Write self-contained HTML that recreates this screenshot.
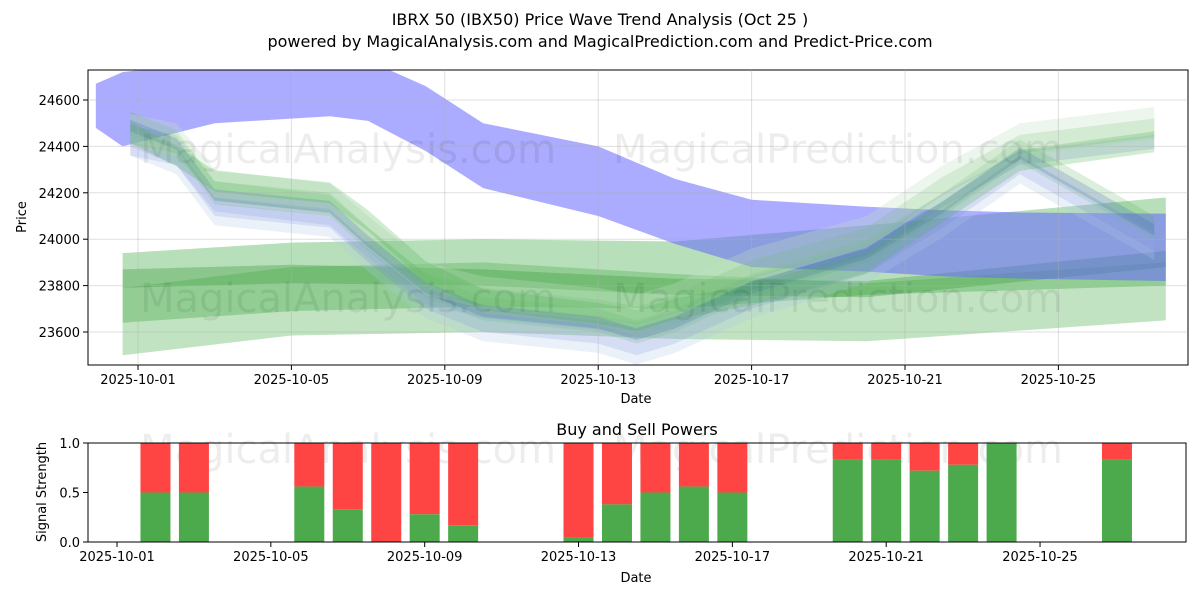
<!DOCTYPE html>
<html><head><meta charset="utf-8"><style>
body{margin:0;background:#fff;font-family:"Liberation Sans","DejaVu Sans",sans-serif}
svg text{font-family:"DejaVu Sans","Liberation Sans",sans-serif}
</style></head><body>
<svg id="c" width="1200" height="600" xmlns="http://www.w3.org/2000/svg">
<defs>
<clipPath id="pc"><rect x="88" y="70" width="1100" height="295"/></clipPath>
</defs>
<rect width="1200" height="600" fill="#fff"/>
<text x="600" y="25" text-anchor="middle" font-size="16">IBRX 50 (IBX50) Price Wave Trend Analysis (Oct 25 )</text>
<text x="600" y="47" text-anchor="middle" font-size="16">powered by MagicalAnalysis.com and MagicalPrediction.com and Predict-Price.com</text>
<g id="bands" clip-path="url(#pc)"></g>
<g id="wm" fill="#000" fill-opacity="0.07" font-size="40">
<text x="348" y="163" text-anchor="middle">MagicalAnalysis.com</text>
<text x="838" y="163" text-anchor="middle">MagicalPrediction.com</text>
<text x="348" y="312" text-anchor="middle">MagicalAnalysis.com</text>
<text x="838" y="312" text-anchor="middle">MagicalPrediction.com</text>
<text x="348" y="463" text-anchor="middle">MagicalAnalysis.com</text>
<text x="838" y="463" text-anchor="middle">MagicalPrediction.com</text>
</g>
<rect x="88" y="70" width="1100" height="295" fill="none" stroke="#000" stroke-width="1"/>
<g id="ax1" font-size="13"></g>
<text x="636" y="403" text-anchor="middle" font-size="13">Date</text>
<text transform="translate(26,217) rotate(-90)" text-anchor="middle" font-size="13">Price</text>
<text x="637" y="435" text-anchor="middle" font-size="16">Buy and Sell Powers</text>
<g id="bars"></g>
<rect x="88" y="443" width="1098" height="99" fill="none" stroke="#000" stroke-width="1"/>
<g id="ax2" font-size="13"></g>
<text x="636" y="582" text-anchor="middle" font-size="13">Date</text>
<text transform="translate(46,492) rotate(-90)" text-anchor="middle" font-size="13">Signal Strength</text>
</svg>
<script>
const yTicks=[23600,23800,24000,24200,24400,24600];
const xTickDays=[1,5,9,13,17,21,25];
const xTickLabels=["2025-10-01","2025-10-05","2025-10-09","2025-10-13","2025-10-17","2025-10-21","2025-10-25"];
const barDays=[2,3,6,7,8,9,10,13,14,15,16,17,20,21,22,23,24,27];
const buyPower=[0.5,0.5,0.56,0.33,0,0.28,0.17,0.05,0.38,0.5,0.56,0.5,0.83,0.83,0.72,0.78,1.0,0.83];
const powerTicks=[0,0.5,1.0];
const bandDays=[-0.1,0.6,3,6,7,8.5,10,13,15,17,20,22,24,27.8];
const blueTop=[24670,24720,24770,24790,24770,24660,24500,24400,24260,24170,24140,24125,24115,24110];
const blueBot=[24480,24400,24500,24530,24510,24380,24220,24100,23980,23880,23860,23840,23830,23820];
const gADays=[0.6,5,10,15,20,27.8];
const gATop=[23940,23985,24000,23990,24060,24180];
const gABot=[23640,23690,23710,23700,23760,23800];
const gBTop=[23790,23880,23900,23850,23810,23900];
const gBBot=[23500,23585,23600,23570,23560,23650];
const gCTop=[23870,23890,23870,23830,23820,23950];
const gCBot=[23790,23810,23800,23760,23750,23880];
const waveDays=[0.8,2,3,6,7,8.5,10,13,14,15,17,20,22,24,27.5];
const waveBlue=[24500,24420,24200,24150,24000,23800,23700,23650,23600,23650,23800,23950,24150,24380,24050];
const waveGreen=[24420,24380,24180,24120,23980,23780,23720,23670,23640,23690,23840,23980,24200,24380,24450];
const ctr=[24460,24360,24250,24200,24080,23860,23740,23680,23650,23700,23760,23900,24120,24340,24420];

const X=d=>138+(d-1)*38.35, Y=v=>332-(v-23600)*0.232;
const X2=d=>117+(d-1)*38.46, Y2=v=>542-v*99;
const NS="http://www.w3.org/2000/svg";
function mk(t,a,p){const e=document.createElementNS(NS,t);for(const k in a)e.setAttribute(k,a[k]);p.appendChild(e);return e;}
const B=document.getElementById('bands');
function band(days,top,bot,fill,op,nm){
 let pts=days.map((d,i)=>X(d)+','+Y(top[i]));
 for(let i=days.length-1;i>=0;i--)pts.push(X(days[i])+','+Y(bot[i]));
 const p=mk('polygon',{points:pts.join(' '),fill:fill,'fill-opacity':op},B);
 
 
}
band(gADays,gATop,gABot,'#4caf50',0.4,'green-band-a');
band(gADays,gBTop,gBBot,'#4caf50',0.35,'green-band-b');
band(gADays,gCTop,gCBot,'#3a9a3a',0.35,'green-band-c');
band(bandDays,blueTop,blueBot,'#6666ff',0.55,'blue-band');
const offs=[[-60,40,'#5a6ad8',0.18],[-30,30,'#7080e0',0.2],[0,50,'#4caf50',0.2],[30,40,'#4caf50',0.2],[-80,60,'#b0c8e8',0.25],[50,70,'#bfe0bf',0.3],[-10,25,'#4060c0',0.22]];
offs.forEach((o,k)=>{
 const src=k%2?waveGreen:waveBlue;
 band(waveDays,src.map(v=>v+o[0]+o[1]),src.map(v=>v+o[0]-o[1]),o[2],o[3],'wave-band-'+k);
});
band(waveDays,ctr.map(v=>v+45),ctr.map(v=>v-45),'#4caf50',0.25,'wave-band-center');
const A1=document.getElementById('ax1');
yTicks.forEach(v=>{
 mk('line',{x1:88,x2:1188,y1:Y(v),y2:Y(v),stroke:'#b0b0b0','stroke-opacity':0.4},A1);
 mk('line',{x1:83,x2:88,y1:Y(v),y2:Y(v),stroke:'#000'},A1);
 const t=mk('text',{x:80,y:Y(v)+5,'text-anchor':'end'},A1);t.textContent=v;
 
 
});
xTickDays.forEach((d,i)=>{
 mk('line',{x1:X(d),x2:X(d),y1:70,y2:365,stroke:'#b0b0b0','stroke-opacity':0.4},A1);
 mk('line',{x1:X(d),x2:X(d),y1:365,y2:370,stroke:'#000'},A1);
 const t=mk('text',{x:X(d),y:384,'text-anchor':'middle'},A1);t.textContent=xTickLabels[i];
 
 
});
const BR=document.getElementById('bars');
barDays.forEach((d,i)=>{
 const x=X2(d)-15;
 const r=mk('rect',{x:x,y:Y2(1),width:30,height:Y2(buyPower[i])-Y2(1),fill:'#ff4444'},BR);
 
 
 const g=mk('rect',{x:x,y:Y2(buyPower[i]),width:30,height:Y2(0)-Y2(buyPower[i]),fill:'#4caa4c'},BR);
 
 
});
const A2=document.getElementById('ax2');
powerTicks.forEach(v=>{
 mk('line',{x1:83,x2:88,y1:Y2(v),y2:Y2(v),stroke:'#000'},A2);
 const t=mk('text',{x:80,y:Y2(v)+5,'text-anchor':'end'},A2);t.textContent=v.toFixed(1);
 
 
});
xTickDays.forEach((d,i)=>{
 mk('line',{x1:X2(d),x2:X2(d),y1:542,y2:547,stroke:'#000'},A2);
 const t=mk('text',{x:X2(d),y:561,'text-anchor':'middle'},A2);t.textContent=xTickLabels[i];
 
 
});
</script>
</body></html>
